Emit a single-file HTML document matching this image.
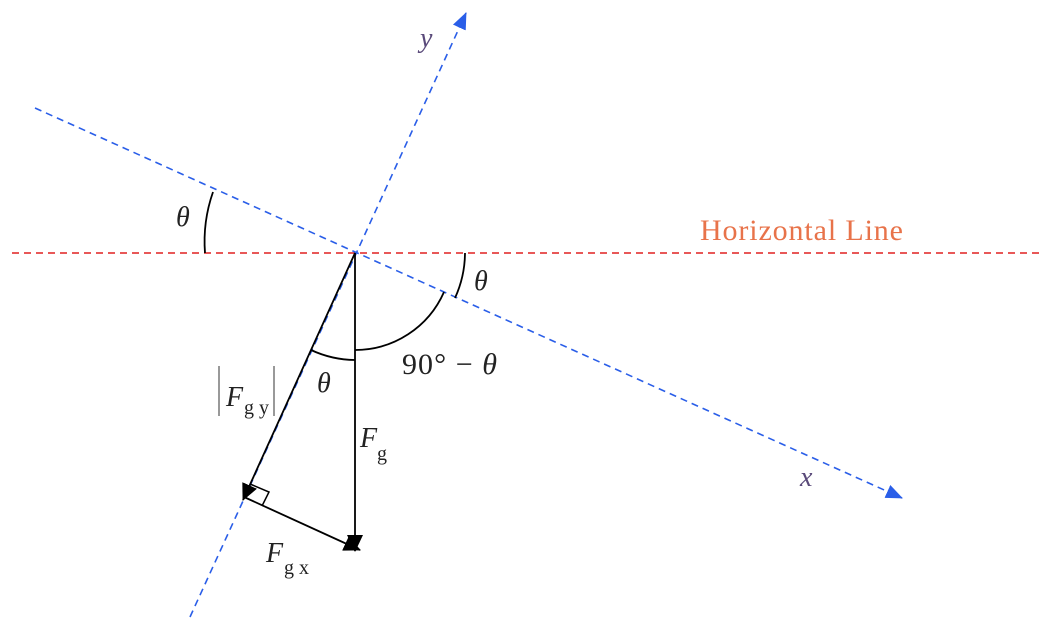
<!DOCTYPE html>
<html><head><meta charset="utf-8"><style>body{margin:0;background:#fff}svg{display:block}text{font-family:"Liberation Serif",serif}</style></head>
<body>
<svg width="1052" height="625" viewBox="0 0 1052 625" xmlns="http://www.w3.org/2000/svg">
<defs>
<marker id="b" markerWidth="18" markerHeight="16" refX="16" refY="8" orient="auto" markerUnits="userSpaceOnUse"><path d="M0,1 L17,8 L0,15 z" fill="#2a5ee8"/></marker>
<marker id="k" markerWidth="18" markerHeight="18" refX="16" refY="9" orient="auto" markerUnits="userSpaceOnUse"><path d="M0,1 L17,9 L0,17 z" fill="#000"/></marker>
</defs>
<line x1="12" y1="253" x2="1040" y2="253" stroke="#e02020" stroke-width="1.6" stroke-dasharray="7,5"/>
<line x1="35" y1="108" x2="902" y2="498" stroke="#2a5ee8" stroke-width="1.6" stroke-dasharray="7,5" marker-end="url(#b)"/>
<line x1="190" y1="617" x2="466" y2="13" stroke="#2a5ee8" stroke-width="1.6" stroke-dasharray="7,5" marker-end="url(#b)"/>
<line x1="355" y1="253" x2="355" y2="551" stroke="#000" stroke-width="1.8" marker-end="url(#k)"/>
<line x1="355" y1="253" x2="243" y2="500" stroke="#000" stroke-width="1.8" marker-end="url(#k)"/>
<line x1="244" y1="497" x2="360" y2="550" stroke="#000" stroke-width="1.8" marker-end="url(#k)"/>
<path d="M250,484 L269,492 L262,506" fill="none" stroke="#000" stroke-width="1.5"/>
<path d="M355,360 A107,107 0 0 1 311,350" fill="none" stroke="#000" stroke-width="1.8"/>
<path d="M355,350 A97,97 0 0 0 444,292" fill="none" stroke="#000" stroke-width="1.8"/>
<path d="M465,253 A110,110 0 0 1 455,298" fill="none" stroke="#000" stroke-width="1.8"/>
<path d="M205,253 A150,150 0 0 1 213,192" fill="none" stroke="#000" stroke-width="1.8"/>
<g font-style="italic" font-size="28" fill="#222">
<text x="176" y="226">θ</text>
<text x="474" y="290">θ</text>
<text x="317" y="392">θ</text>
<text x="420" y="47" fill="#5a4a7a">y</text>
<text x="800" y="486" fill="#5a4a7a">x</text>
<text x="226" y="406">F</text>
<text x="360" y="447">F</text>
<text x="266" y="562">F</text>
</g>
<g font-size="20" fill="#222">
<text x="244" y="414">g y</text>
<text x="377" y="460">g</text>
<text x="284" y="574">g x</text>
</g>
<text x="402" y="374" font-size="30" fill="#222" textLength="95">90° − <tspan font-style="italic">θ</tspan></text>
<text x="700" y="240" font-size="30" fill="#e8734a" textLength="203">Horizontal Line</text>
<line x1="219" y1="366" x2="219" y2="416" stroke="#555" stroke-width="1.2"/>
<line x1="274" y1="366" x2="274" y2="416" stroke="#555" stroke-width="1.2"/>
</svg>
</body></html>
